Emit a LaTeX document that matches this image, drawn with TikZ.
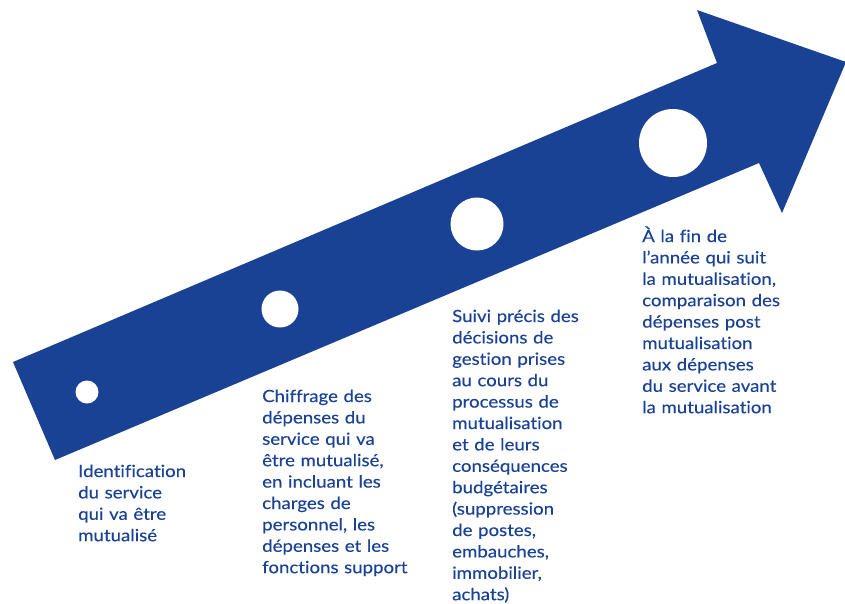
\documentclass[tikz,border=0pt]{standalone}
\usepackage{fontspec}
\setmainfont{Lato}[FakeStretch=1.11,FakeBold=0.25,Ligatures=NoCommon]
\definecolor{mblue}{RGB}{26,66,148}
\begin{document}
\begin{tikzpicture}[x=1pt,y=-1pt,
  dot/.style={circle,fill=white,inner sep=0pt},
  desc/.style={anchor=base west,inner sep=0pt,text width=190pt,align=left,
    text=mblue,font=\fontsize{16.8}{21.4}\selectfont}]
\useasboundingbox (0,0) rectangle (845,603);
\clip (0,0) rectangle (845,603);
\fill[mblue] (13,362) -- (717,63) -- (697,10) -- (846,62) -- (782,213)
  -- (759,163) -- (55,460) -- cycle;
\node[dot,minimum size=23pt] (c1) at (87,392) {};
\node[dot,minimum size=37pt] (c2) at (280,309) {};
\node[dot,minimum size=53pt] (c3) at (477,224) {};
\node[dot,minimum size=68pt] (c4) at (673,143) {};
\node[desc] (t1) at (78,477) {Identification\\du service\\qui va être\\mutualisé};
\node[desc] (t2) at (262,402) {Chiffrage des\\dépenses du\\service qui va\\être mutualisé,\\en incluant les\\charges de\\personnel, les\\dépenses et les\\fonctions support};
\node[desc] (t3) at (452,322) {Suivi précis des\\décisions de\\gestion prises\\au cours du\\processus de\\mutualisation\\et de leurs\\conséquences\\budgétaires\\(suppression\\de postes,\\embauches,\\immobilier,\\achats)};
\node[desc] (t4) at (642,242) {À la fin de\\l’année qui suit\\la mutualisation,\\comparaison des\\dépenses post\\mutualisation\\aux dépenses\\du service avant\\la mutualisation};
\end{tikzpicture}
\end{document}
